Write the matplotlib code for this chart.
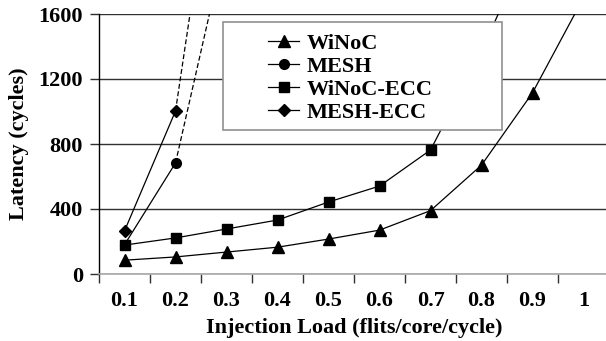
import matplotlib.pyplot as plt
from matplotlib.patches import Rectangle
from matplotlib.lines import Line2D
import numpy as np

plt.rcParams['font.family'] = 'Liberation Serif'
plt.rcParams['font.weight'] = 'bold'

# injection load categories and measured latency (cycles)
loads = ['0.1', '0.2', '0.3', '0.4', '0.5', '0.6', '0.7', '0.8', '0.9', '1']
winoc = [85, 105, 135, 165, 215, 270, 390, 670, 1115, 1700]
winoc_ecc = [178, 222, 277, 332, 443, 541, 763, 1370, 2070]
mesh = [180, 683, 2060]
mesh_ecc = [265, 1003, 3100]

W, H = 606, 341
fig = plt.figure(figsize=(W / 100, H / 100), dpi=100)
# plot area: x 99..609 px, y 14..274 px (right edge runs off the canvas)
ax = fig.add_axes([99 / W, 1 - 274 / H, 510 / W, 260 / H])

pos = np.arange(1, len(loads) + 1)
fs = 16

ax.set_xlim(0.5, 10.5)
ax.set_ylim(0, 1600)
ax.set_yticks([0, 400, 800, 1200, 1600])
ax.yaxis.grid(True, color='#303030', linewidth=1.0)
ax.set_axisbelow(True)

for s in ['top', 'right']:
    ax.spines[s].set_visible(False)
ax.spines['left'].set_color('black')
ax.spines['left'].set_linewidth(1.0)
ax.spines['bottom'].set_color('#a8a8a8')
ax.spines['bottom'].set_linewidth(1.2)

ax.set_xticks(pos)
ax.set_xticklabels(loads)
ax.set_xticks(np.arange(0.5, 10.6, 1), minor=True)
ax.tick_params(axis='x', which='major', length=0, pad=12, labelsize=fs)
ax.tick_params(axis='x', which='minor', length=6.5, width=1.0, color='#303030')
ax.tick_params(axis='y', length=6.5, width=1.0, color='#303030', pad=5, labelsize=fs)

ax.set_xlabel('Injection Load (flits/core/cycle)', fontsize=fs, fontweight='bold', labelpad=5)
ax.set_ylabel('Latency (cycles)', fontsize=fs, fontweight='bold', labelpad=7)

lk = dict(color='black', linewidth=0.9, markerfacecolor='black', markeredgecolor='black')

# MESH: solid to the first visible point, dashed beyond
ax.plot(pos[:2], mesh[:2], marker='o', markersize=7, **lk, zorder=3)
ax.plot(pos[1:3], mesh[1:3], linestyle=(0, (4, 2)), **lk, zorder=3)
ax.plot(pos[:2], mesh_ecc[:2], marker='D', markersize=6, **lk, zorder=3)
ax.plot(pos[1:3], mesh_ecc[1:3], linestyle=(0, (4, 2)), **lk, zorder=3)
ax.plot(pos[:len(winoc_ecc)], winoc_ecc, marker='s', markersize=7, **lk, zorder=3)
ax.plot(pos[:len(winoc)], winoc, marker='^', markersize=8, **lk, zorder=3)

# legend panel covers the curves behind it
box = Rectangle((223 / W, 1 - 130 / H), (502 - 223) / W, (130 - 22) / H,
                transform=fig.transFigure, facecolor='white', edgecolor='#909090',
                linewidth=1.2, zorder=10)
fig.add_artist(box)

handles = [
    Line2D([], [], marker='^', markersize=8, **lk),
    Line2D([], [], marker='o', markersize=7, **lk),
    Line2D([], [], marker='s', markersize=7, **lk),
    Line2D([], [], marker='D', markersize=6, **lk),
]
leg = fig.legend(handles, ['WiNoC', 'MESH', 'WiNoC-ECC', 'MESH-ECC'],
                 loc='upper left', bbox_to_anchor=(268 / W, 1 - 33 / H),
                 frameon=False, borderpad=0, borderaxespad=0,
                 handlelength=1.4, handletextpad=0.35, labelspacing=0.12,
                 prop={'family': 'Liberation Serif', 'weight': 'bold', 'size': fs})
leg.set_zorder(11)

fig.savefig('out.png', dpi=100)
